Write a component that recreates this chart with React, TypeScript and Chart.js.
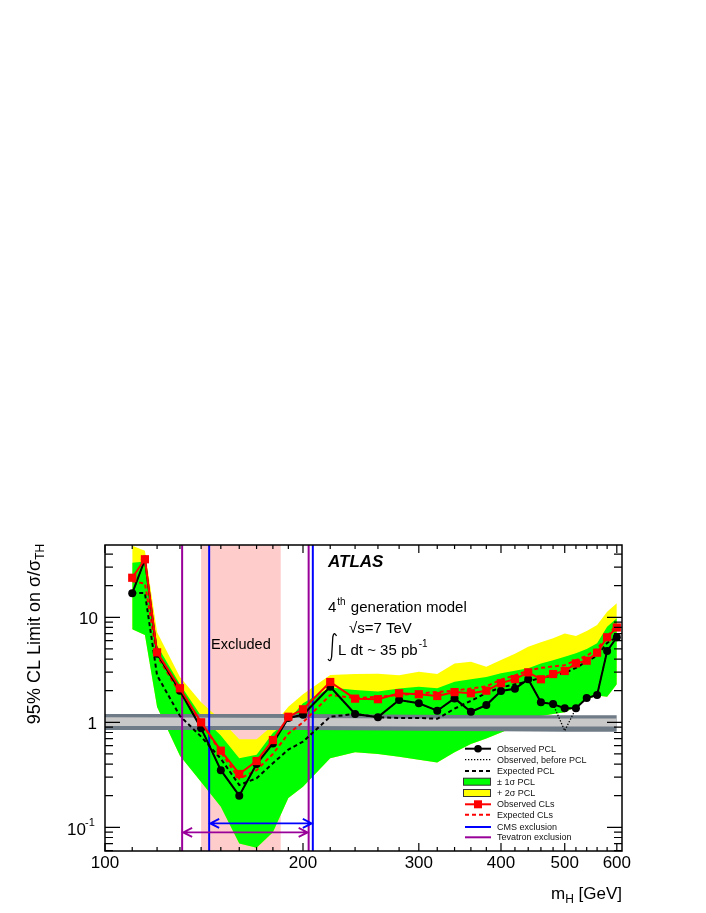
import React, { useEffect, useRef } from 'react';
import { Chart, registerables } from 'chart.js';

Chart.register(...registerables);

// ---------- data ----------
const masses = [110, 115, 120, 130, 140, 150, 160, 170, 180, 190, 200, 220, 240, 260, 280, 300, 320, 340, 360, 380, 400, 420, 440, 460, 480, 500, 520, 540, 560, 580, 600];

const obsPCL = [16.9, 35.5, 4.5, 2.0, 0.88, 0.35, 0.2, 0.4, 0.63, 1.1, 1.18, 2.18, 1.2, 1.12, 1.63, 1.52, 1.29, 1.69, 1.26, 1.46, 1.99, 2.09, 2.57, 1.55, 1.49, 1.36, 1.36, 1.7, 1.82, 4.77, 6.45];
const obsBeforePCL = [16.9, 35.5, 4.5, 2.0, 0.88, 0.35, 0.2, 0.4, 0.63, 1.1, 1.18, 2.18, 1.2, 1.12, 1.63, 1.52, 1.29, 1.69, 1.26, 1.46, 1.99, 2.09, 2.57, 1.55, 1.49, 0.83, 1.36, 1.7, 1.82, 4.77, 6.45];
const expPCL = [17, 17, 2.8, 1.15, 0.73, 0.45, 0.253, 0.293, 0.407, 0.55, 0.654, 1.13, 1.2, 1.12, 1.1, 1.1, 1.08, 1.35, 1.6, 1.9, 2.15, 2.3, 2.45, 2.65, 2.8, 2.95, 3.3, 3.8, 4.3, 5.7, 6.5];
const obsCLs = [23.8, 35.7, 4.64, 2.11, 1.0, 0.537, 0.322, 0.428, 0.678, 1.13, 1.33, 2.42, 1.68, 1.66, 1.89, 1.85, 1.78, 1.94, 1.89, 2.0, 2.36, 2.58, 2.99, 2.57, 2.88, 3.08, 3.64, 3.86, 4.6, 6.45, 8.0];
const expCLs = [22, 21, 4.3, 1.9, 1.0, 0.52, 0.29, 0.35, 0.5, 0.78, 1.0, 1.82, 1.7, 1.75, 1.82, 1.88, 1.95, 2.0, 2.1, 2.2, 2.55, 2.8, 3.1, 3.3, 3.4, 3.5, 3.9, 4.3, 5.0, 6.5, 8.6];
const band1Hi = [33, 34, 5.4, 2.3, 1.15, 0.75, 0.454, 0.49, 0.79, 1.05, 1.52, 2.15, 2.03, 1.96, 2.1, 2.18, 2.11, 2.44, 2.57, 2.7, 2.93, 3.1, 3.27, 3.64, 3.9, 4.22, 4.54, 5.0, 5.65, 8.13, 9.77];
const band1Lo = [7.7, 6.8, 1.4, 0.48, 0.27, 0.157, 0.07, 0.064, 0.09, 0.19, 0.244, 0.454, 0.52, 0.5, 0.47, 0.44, 0.415, 0.52, 0.62, 0.7, 0.8, 0.9, 1.05, 1.15, 1.2, 1.25, 1.4, 1.65, 1.8, 1.75, 2.3];
const band2Hi = [48, 43, 7.2, 2.7, 1.55, 1.05, 0.69, 0.69, 0.94, 1.41, 1.85, 2.82, 2.88, 2.9, 2.8, 3.03, 2.88, 3.64, 3.78, 3.39, 3.92, 4.5, 5.25, 5.77, 6.3, 7.0, 6.62, 7.4, 8.43, 11.3, 13.6];

const thMass = [100, 200, 300, 400, 500, 600];
const thDarkHi = [1.2, 1.2, 1.18, 1.17, 1.17, 1.17];
const thDarkLo = [0.845, 0.845, 0.83, 0.82, 0.815, 0.815];
const thLightHi = [1.12, 1.1, 1.09, 1.09, 1.09, 1.09];
const thLightLo = [0.92, 0.92, 0.91, 0.91, 0.91, 0.91];

const excludedRange = [140, 185];
const cmsExcl = [144, 207];
const tevExcl = [131, 204];
const cmsArrowY = 0.109;
const tevArrowY = 0.0895;

const xMajor = [100, 200, 300, 400, 500, 600];
const xMinor = [110, 120, 130, 140, 150, 160, 170, 180, 190, 220, 240, 260, 280, 320, 340, 360, 380, 420, 440, 460, 480, 520, 540, 560, 580];
const yMajor = [0.1, 1, 10];
const yMinor = [0.06, 0.07, 0.08, 0.09, 0.2, 0.3, 0.4, 0.5, 0.6, 0.7, 0.8, 0.9, 2, 3, 4, 5, 6, 7, 8, 9, 20, 30, 40];

const legendLabels = ['Observed PCL', 'Observed, before PCL', 'Expected PCL', '\u00b1 1\u03c3 PCL', '+ 2\u03c3 PCL', 'Observed CLs', 'Expected CLs', 'CMS exclusion', 'Tevatron exclusion'];

const FONT = '"Liberation Sans", Arial, Helvetica, sans-serif';
const PURPLE = '#990099';
const BLUE = '#0000ff';

function pts(ys: number[], xs: number[] = masses) {
  return xs.map((x, i) => ({ x, y: ys[i] }));
}

const annotations = {
  id: 'annotations',
  beforeDatasetsDraw(chart: any) {
    const ctx = chart.ctx;
    const xs = chart.scales.x;
    const { top, bottom } = chart.chartArea;
    ctx.save();
    ctx.fillStyle = '#ffcccc';
    const x0 = xs.getPixelForValue(excludedRange[0]);
    const x1 = xs.getPixelForValue(excludedRange[1]);
    ctx.fillRect(x0, top, x1 - x0, bottom - top);
    ctx.restore();
  },
  afterDatasetDraw(chart: any, args: any) {
    if (args.index !== 6) return;
    const ctx = chart.ctx;
    const xs = chart.scales.x;
    const ys = chart.scales.y;
    const { top, bottom } = chart.chartArea;
    ctx.save();
    ctx.lineWidth = 2;
    const vline = (m: number, col: string) => {
      const x = xs.getPixelForValue(m);
      ctx.strokeStyle = col;
      ctx.beginPath();
      ctx.moveTo(x, top);
      ctx.lineTo(x, bottom);
      ctx.stroke();
    };
    vline(tevExcl[0], PURPLE);
    vline(tevExcl[1], PURPLE);
    vline(cmsExcl[0], BLUE);
    vline(cmsExcl[1], BLUE);
    const arrow = (range: number[], yv: number, col: string) => {
      const xa = xs.getPixelForValue(range[0]);
      const xb = xs.getPixelForValue(range[1]);
      const y = ys.getPixelForValue(yv);
      ctx.strokeStyle = col;
      ctx.lineWidth = 1.8;
      ctx.beginPath();
      ctx.moveTo(xa, y);
      ctx.lineTo(xb, y);
      ctx.moveTo(xa + 10, y - 4.5);
      ctx.lineTo(xa + 1, y);
      ctx.lineTo(xa + 10, y + 4.5);
      ctx.moveTo(xb - 10, y - 4.5);
      ctx.lineTo(xb - 1, y);
      ctx.lineTo(xb - 10, y + 4.5);
      ctx.stroke();
    };
    arrow(cmsExcl, cmsArrowY, BLUE);
    arrow(tevExcl, tevArrowY, PURPLE);
    ctx.restore();
  },
  afterDraw(chart: any) {
    const ctx = chart.ctx;
    const xs = chart.scales.x;
    const ys = chart.scales.y;
    const { left, right, top, bottom } = chart.chartArea;
    ctx.save();
    // frame
    ctx.strokeStyle = '#000';
    ctx.lineWidth = 1.5;
    ctx.strokeRect(left, top, right - left, bottom - top);
    ctx.lineWidth = 1.2;
    ctx.beginPath();
    // x ticks
    const xt = (m: number, len: number) => {
      const x = xs.getPixelForValue(m);
      ctx.moveTo(x, bottom);
      ctx.lineTo(x, bottom - len);
      ctx.moveTo(x, top);
      ctx.lineTo(x, top + len);
    };
    xMajor.forEach((m) => xt(m, 8));
    xMinor.forEach((m) => xt(m, 4));
    const yt = (v: number, len: number) => {
      const y = ys.getPixelForValue(v);
      ctx.moveTo(left, y);
      ctx.lineTo(left + len, y);
      ctx.moveTo(right, y);
      ctx.lineTo(right - len, y);
    };
    yMajor.forEach((v) => yt(v, 15));
    yMinor.forEach((v) => yt(v, 8));
    ctx.stroke();

    // x tick labels
    ctx.fillStyle = '#000';
    ctx.font = `17px ${FONT}`;
    ctx.textAlign = 'center';
    ctx.textBaseline = 'middle';
    xMajor.forEach((m) => {
      ctx.fillText(String(m), xs.getPixelForValue(m), bottom + 12);
    });
    // y tick labels
    ctx.textAlign = 'right';
    const y10 = ys.getPixelForValue(10);
    const y1 = ys.getPixelForValue(1);
    const y01 = ys.getPixelForValue(0.1);
    ctx.fillText('10', left - 7, y10 + 2);
    ctx.fillText('1', left - 8, y1 + 2);
    ctx.fillText('10', left - 19, y01 + 3);
    ctx.font = `11px ${FONT}`;
    ctx.textAlign = 'left';
    ctx.fillText('-1', left - 20, y01 - 4);

    // axis titles
    ctx.font = `17px ${FONT}`;
    ctx.textAlign = 'left';
    ctx.textBaseline = 'alphabetic';
    const xt1 = 'm';
    const xt2 = 'H';
    const xt3 = ' [GeV]';
    ctx.font = `17px ${FONT}`;
    const w1 = ctx.measureText(xt1).width;
    const w3 = ctx.measureText(xt3).width;
    ctx.font = `12px ${FONT}`;
    const w2 = ctx.measureText(xt2).width;
    let xx = right - (w1 + w2 + w3);
    const by = 899;
    ctx.font = `17px ${FONT}`;
    ctx.fillText(xt1, xx, by);
    xx += w1;
    ctx.font = `12px ${FONT}`;
    ctx.fillText(xt2, xx, by + 4);
    xx += w2;
    ctx.font = `17px ${FONT}`;
    ctx.fillText(xt3, xx, by);

    // y title rotated
    ctx.save();
    ctx.translate(40, 634);
    ctx.rotate(-Math.PI / 2);
    const ya = '95% CL Limit on \u03c3/\u03c3';
    const yb = 'TH';
    ctx.font = `18px ${FONT}`;
    const wa = ctx.measureText(ya).width;
    ctx.font = `12px ${FONT}`;
    const wb = ctx.measureText(yb).width;
    const start = -(wa + wb) / 2;
    ctx.font = `18px ${FONT}`;
    ctx.fillText(ya, start, 0);
    ctx.font = `12px ${FONT}`;
    ctx.fillText(yb, start + wa, 4);
    ctx.restore();

    // ATLAS label and texts
    ctx.font = `italic bold 17px ${FONT}`;
    ctx.fillText('ATLAS', 328, 567);
    ctx.font = `15px ${FONT}`;
    ctx.fillText('4', 328, 612);
    const w4 = ctx.measureText('4').width;
    ctx.font = `10px ${FONT}`;
    ctx.fillText('th', 328 + w4 + 1, 605);
    const wth = ctx.measureText('th').width;
    ctx.font = `15px ${FONT}`;
    ctx.fillText(' generation model', 328 + w4 + 2 + wth, 612);
    ctx.fillText('\u221As=7 TeV', 349, 633);
    ctx.fillText('L dt ~ 35 pb', 338, 655);
    const wl = ctx.measureText('L dt ~ 35 pb').width;
    ctx.font = `10px ${FONT}`;
    ctx.fillText('-1', 338 + wl + 1, 647);
    // integral sign
    ctx.lineWidth = 1.3;
    ctx.strokeStyle = '#000';
    ctx.beginPath();
    ctx.moveTo(336.5, 636);
    ctx.quadraticCurveTo(334, 631, 332.8, 637);
    ctx.lineTo(331.6, 657);
    ctx.quadraticCurveTo(330.6, 663, 328, 659);
    ctx.stroke();

    // Excluded
    ctx.font = `14.5px ${FONT}`;
    ctx.textAlign = 'center';
    ctx.fillText('Excluded', (xs.getPixelForValue(excludedRange[0]) + xs.getPixelForValue(excludedRange[1])) / 2, 649);

    // legend
    const rows = [748.7, 759.7, 771, 781.7, 793, 804.3, 814.7, 827, 837.3];
    const lx0 = 465;
    const lx1 = 491;
    const lxm = (lx0 + lx1) / 2;
    ctx.textAlign = 'left';
    ctx.textBaseline = 'middle';
    ctx.font = `9px ${FONT}`;
    const line = (y: number, col: string, w: number, dash: number[]) => {
      ctx.save();
      ctx.strokeStyle = col;
      ctx.lineWidth = w;
      ctx.setLineDash(dash);
      ctx.beginPath();
      ctx.moveTo(lx0, y);
      ctx.lineTo(lx1, y);
      ctx.stroke();
      ctx.restore();
    };
    line(rows[0], '#000', 2, []);
    ctx.fillStyle = '#000';
    ctx.beginPath();
    ctx.arc(lxm, rows[0], 3.8, 0, Math.PI * 2);
    ctx.fill();
    line(rows[1], '#000', 1.3, [1.3, 1.7]);
    line(rows[2], '#000', 2, [4, 3]);
    const box = (y: number, col: string) => {
      ctx.fillStyle = col;
      ctx.fillRect(lx0 - 1.5, y - 3.5, lx1 - lx0 + 1, 7);
      ctx.strokeStyle = '#333';
      ctx.lineWidth = 1;
      ctx.strokeRect(lx0 - 1.5, y - 3.5, lx1 - lx0 + 1, 7);
    };
    box(rows[3], '#00ff00');
    box(rows[4], '#ffff00');
    line(rows[5], '#ff0000', 2, []);
    ctx.fillStyle = '#ff0000';
    ctx.fillRect(lxm - 4, rows[5] - 4, 8, 8);
    line(rows[6], '#ff0000', 2, [4, 3]);
    line(rows[7], BLUE, 2, []);
    line(rows[8], PURPLE, 2, []);
    ctx.fillStyle = '#111';
    legendLabels.forEach((t, i) => ctx.fillText(t, 497, rows[i] + 0.5));
    ctx.restore();
  },
};

export default function App() {
  const ref = useRef<HTMLCanvasElement>(null);
  useEffect(() => {
    const canvas = ref.current;
    if (!canvas) return;
    const hidden = { pointRadius: 0, borderWidth: 0, borderColor: 'rgba(0,0,0,0)', tension: 0, fill: false };
    const chart = new Chart(canvas, {
      type: 'line',
      data: {
        datasets: [
          { ...hidden, data: pts(band2Hi), fill: 2, backgroundColor: '#ffff00', order: 20 },
          { ...hidden, data: pts(band1Hi), fill: 2, backgroundColor: '#00ff00', order: 19 },
          { ...hidden, data: pts(band1Lo), order: 18 },
          { ...hidden, data: pts(thDarkHi, thMass), fill: 4, backgroundColor: '#6f7b86', order: 17 },
          { ...hidden, data: pts(thDarkLo, thMass), order: 16 },
          { ...hidden, data: pts(thLightHi, thMass), fill: 6, backgroundColor: '#c8c8c8', order: 15 },
          { ...hidden, data: pts(thLightLo, thMass), order: 14 },
          { data: pts(expPCL), borderColor: '#000', borderWidth: 2, borderDash: [4, 3], pointRadius: 0, tension: 0, fill: false, order: 6 },
          { data: pts(expCLs), borderColor: '#ff0000', borderWidth: 2, borderDash: [4, 3], pointRadius: 0, tension: 0, fill: false, order: 5 },
          { data: pts(obsBeforePCL), borderColor: '#000', borderWidth: 1.3, borderDash: [1.3, 1.7], pointRadius: 0, tension: 0, fill: false, order: 4 },
          { data: pts(obsPCL), borderColor: '#000', borderWidth: 2, pointRadius: 4, pointStyle: 'circle', pointBackgroundColor: '#000', pointBorderColor: '#000', pointBorderWidth: 0, tension: 0, fill: false, order: 3 },
          { data: pts(obsCLs), borderColor: '#ff0000', borderWidth: 2, pointRadius: 5.8, pointStyle: 'rect', pointBackgroundColor: '#ff0000', pointBorderColor: '#ff0000', pointBorderWidth: 0, tension: 0, fill: false, order: 2 },
        ] as any,
      },
      options: {
        animation: false,
        responsive: false,
        devicePixelRatio: 1,
        events: [],
        layout: { padding: { left: 105, top: 545, right: 84, bottom: 62 } },
        scales: {
          x: { type: 'logarithmic', min: 100, max: 611, display: false },
          y: { type: 'logarithmic', min: 0.0595, max: 48.8, display: false },
        },
        plugins: {
          legend: { display: false },
          tooltip: { enabled: false },
          filler: { propagate: false },
        },
      } as any,
      plugins: [annotations],
    });
    return () => chart.destroy();
  }, []);
  return (
    <canvas
      ref={ref}
      width={706}
      height={913}
      style={{ position: 'absolute', left: 0, top: 0, width: 706, height: 913, display: 'block' }}
    />
  );
}
